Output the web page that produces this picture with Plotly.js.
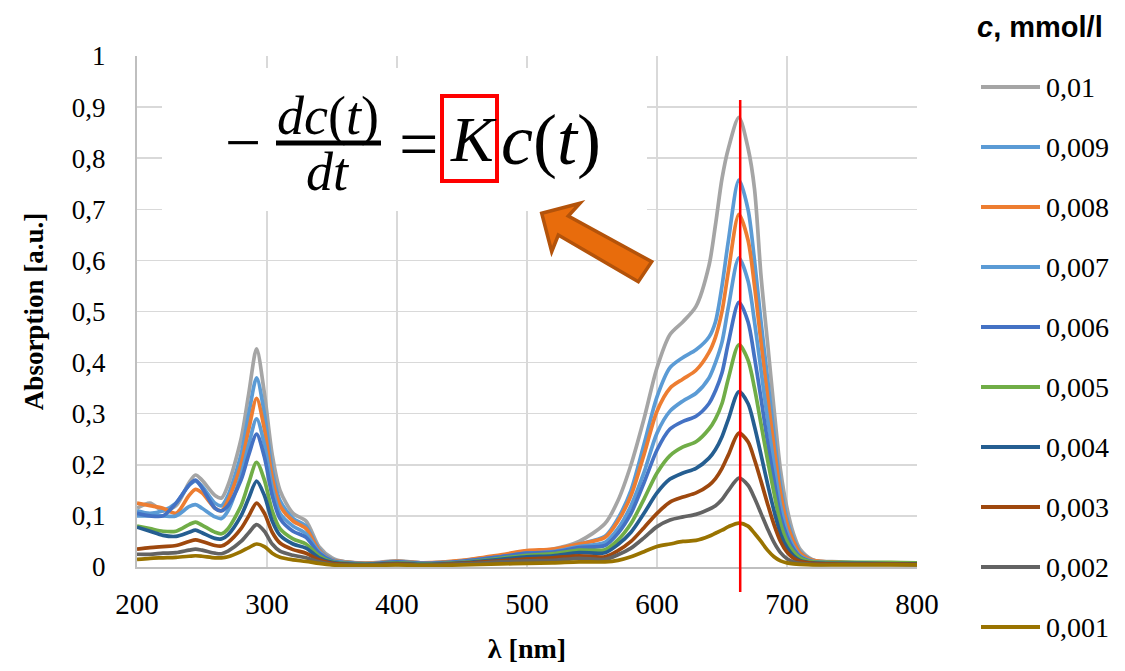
<!DOCTYPE html>
<html>
<head>
<meta charset="utf-8">
<script src="https://cdn.plot.ly/plotly-3.0.1.min.js"></script>
<style>html,body{margin:0;padding:0;background:#fff;}#chart{width:1125px;height:671px;}</style>
</head>
<body>
<div id="chart"></div>
<script>
// ---- data ----
const wavelengths = [200,210,220,230,240,245,250,260,265,270,280,286,292,298,304,310,320,330,340,350,360,380,400,420,450,480,500,520,540,560,570,580,590,600,610,620,630,640,645,650,655,663,670,675,680,685,690,695,700,705,710,720,740,760,780,800];

const seriesLabels = ["0,01","0,009","0,008","0,007","0,006","0,005","0,004","0,003","0,002","0,001"];
const seriesColors = ["#A5A5A5","#5B9BD5","#ED7D31","#5B9BD5","#4472C4","#70AD47","#255E91","#9E480E","#636363","#997300"];

const abs_0_010 = [.115,.125,.11,.12,.165,.18,.17,.14,.135,.16,.25,.34,.427,.34,.22,.15,.105,.09,.04,.018,.01,
  .008,.012,.008,.012,.022,.03,.035,.05,
  .085,.13,.2,.29,.39,.455,.48,.51,.59,.67,.76,.82,.88,.82,.74,.57,.44,.31,.19,.115,.065,.035,.014,.01,.008,.008,.007];
const abs_0_009 = [.11,.105,.11,.125,.16,.168,.158,.125,.12,.14,.22,.3,.37,.3,.19,.13,.095,.08,.035,.015,.01,
  .007,.011,.008,.012,.022,.03,.033,.045,
  .06,.095,.15,.24,.333,.39,.41,.425,.45,.48,.55,.64,.757,.70,.6,.48,.37,.26,.16,.095,.055,.03,.013,.009,.008,.007,.006];
const abs_0_008 = [.125,.12,.115,.105,.14,.152,.145,.115,.11,.13,.2,.27,.33,.27,.175,.12,.09,.075,.033,.014,.01,
  .007,.011,.008,.013,.024,.032,.035,.045,
  .058,.09,.14,.22,.305,.35,.368,.385,.42,.45,.5,.58,.69,.64,.55,.44,.335,.235,.145,.085,.05,.028,.013,.009,.008,.008,.007];
const abs_0_007 = [.1,.1,.1,.1,.118,.122,.115,.098,.095,.11,.18,.24,.29,.24,.155,.105,.08,.065,.03,.013,.009,
  .006,.01,.007,.011,.02,.027,.03,.04,
  .048,.075,.12,.185,.262,.305,.325,.34,.37,.4,.44,.51,.605,.56,.48,.385,.29,.2,.12,.07,.04,.022,.011,.008,.007,.007,.006];
const abs_0_006 = [.105,.1,.1,.125,.16,.17,.155,.115,.11,.12,.17,.22,.26,.215,.14,.095,.07,.058,.027,.012,.008,
  .006,.01,.007,.011,.02,.027,.029,.038,
  .042,.066,.105,.165,.229,.27,.285,.295,.32,.345,.38,.44,.518,.48,.41,.33,.245,.17,.1,.06,.035,.02,.01,.008,.007,.007,.006];
const abs_0_005 = [.08,.075,.07,.07,.083,.088,.082,.068,.065,.075,.12,.165,.205,.17,.11,.075,.055,.045,.022,.01,.007,
  .005,.008,.006,.009,.017,.023,.026,.033,
  .034,.053,.085,.133,.184,.218,.235,.245,.27,.29,.32,.37,.435,.405,.35,.28,.21,.145,.085,.05,.03,.018,.01,.009,.009,.009,.008];
const abs_0_004 = [.078,.07,.062,.06,.068,.072,.067,.056,.055,.063,.1,.135,.168,.14,.09,.062,.045,.037,.018,.009,.006,
  .005,.007,.005,.008,.015,.02,.022,.028,
  .028,.044,.068,.105,.145,.172,.184,.193,.213,.23,.255,.29,.343,.32,.275,.22,.163,.11,.065,.038,.022,.013,.008,.007,.007,.006,.006];
const abs_0_003 = [.035,.038,.04,.042,.05,.053,.05,.042,.041,.048,.075,.1,.125,.105,.068,.047,.034,.027,.014,.007,.005,
  .004,.006,.004,.007,.012,.016,.018,.022,
  .02,.032,.05,.077,.105,.127,.137,.145,.16,.173,.193,.22,.262,.245,.21,.168,.124,.083,.05,.029,.017,.011,.007,.006,.006,.006,.005];
const abs_0_002 = [.025,.025,.027,.028,.033,.035,.033,.027,.026,.031,.05,.067,.083,.07,.045,.031,.023,.018,.01,.005,.004,
  .004,.005,.004,.006,.01,.012,.013,.017,
  .015,.024,.037,.057,.079,.092,.098,.103,.113,.12,.132,.15,.174,.16,.135,.105,.075,.048,.028,.016,.01,.007,.005,.005,.005,.005,.004];
const abs_0_001 = [.015,.017,.018,.019,.021,.022,.021,.018,.018,.02,.03,.038,.045,.04,.027,.019,.014,.011,.007,.004,.003,
  .003,.004,.003,.004,.006,.007,.008,.01,
  .01,.013,.02,.03,.04,.045,.05,.052,.06,.066,.072,.079,.086,.08,.066,.05,.033,.02,.012,.008,.006,.005,.004,.004,.004,.004,.004];

const seriesValues = [abs_0_010,abs_0_009,abs_0_008,abs_0_007,abs_0_006,abs_0_005,abs_0_004,abs_0_003,abs_0_002,abs_0_001];
const markerWavelength = 664;
const xTickVals = [200,300,400,500,600,700,800];

// ---- geometry helpers (pixel -> paper) for decorations ----
const M = {l:137, r:208, t:56, b:104};
const PW = 1125 - M.l - M.r, PH = 671 - M.t - M.b;
const px = x => (x - M.l) / PW;
const py = y => (M.t + PH - y) / PH;

const SERIF = '"Liberation Serif", "Times New Roman", Tinos, "DejaVu Serif", serif';
const SANS = '"Liberation Sans", Arial, Arimo, "DejaVu Sans", sans-serif';

const traces = seriesValues.map((vals, i) => ({
  type:'scatter', mode:'lines', x: wavelengths, y: vals, name: seriesLabels[i],
  line:{color: seriesColors[i], width:3.7, shape:'spline', smoothing:0.8},
  hoverinfo:'x+y+name'
}));

const shapes = [];
const annotations = [];

// equation box
shapes.push({type:'rect', xref:'paper', yref:'paper', x0:px(162), x1:px(647), y0:py(68), y1:py(211),
  fillcolor:'#FFFFFF', line:{width:0}, layer:'above'});
// fraction bar
shapes.push({type:'line', xref:'paper', yref:'paper', x0:px(276), x1:px(381), y0:py(143), y1:py(143),
  line:{color:'#000', width:5}, layer:'above'});
// red box around K
shapes.push({type:'rect', xref:'paper', yref:'paper', x0:px(442), x1:px(497), y0:py(96), y1:py(181),
  line:{color:'#FF0000', width:4}, fillcolor:'rgba(0,0,0,0)', layer:'above'});
// orange arrow
const arrowPts = [[541.7,213.3],[580,203.3],[568.3,216],[651.7,261.7],[638.3,281.7],[558.3,235],[551.7,251.7]];
shapes.push({type:'path', xref:'paper', yref:'paper',
  path: 'M ' + arrowPts.map(p => px(p[0]) + ',' + py(p[1])).join(' L ') + ' Z',
  fillcolor:'#E86C0C', line:{color:'#B4530A', width:3.5}, layer:'above'});
// red vertical marker
shapes.push({type:'line', xref:'x', yref:'paper', x0:markerWavelength, x1:markerWavelength, y0:py(592), y1:py(100),
  line:{color:'#FF0000', width:2.5}, layer:'above'});

// equation text
const eqFont = (s) => ({family:SERIF, size:s, color:'#000'});
annotations.push({xref:'paper', yref:'paper', x:px(243), y:py(142), text:'−', showarrow:false, font:eqFont(64), xanchor:'center', yanchor:'middle'});
annotations.push({xref:'paper', yref:'paper', x:px(328), y:py(116), text:'<i>dc</i>(<i>t</i>)', showarrow:false, font:eqFont(54), xanchor:'center', yanchor:'middle'});
annotations.push({xref:'paper', yref:'paper', x:px(328), y:py(172), text:'<i>dt</i>', showarrow:false, font:eqFont(54), xanchor:'center', yanchor:'middle'});
annotations.push({xref:'paper', yref:'paper', x:px(418), y:py(144), text:'=', showarrow:false, font:eqFont(70), xanchor:'center', yanchor:'middle'});
annotations.push({xref:'paper', yref:'paper', x:px(473), y:py(139), text:'<i>K</i>', showarrow:false, font:eqFont(64), xanchor:'center', yanchor:'middle'});
annotations.push({xref:'paper', yref:'paper', x:px(551), y:py(140), text:'<i>c</i>(<i>t</i>)', showarrow:false, font:eqFont(72), xanchor:'center', yanchor:'middle'});

// manual legend
annotations.push({xref:'paper', yref:'paper', x:px(1040), y:py(27), text:'<b><i>c</i>, mmol/l</b>', showarrow:false,
  font:{family:SANS, size:29, color:'#000'}, xanchor:'center', yanchor:'middle'});
seriesLabels.forEach((lab, i) => {
  const yy = 87 + i * 60;
  shapes.push({type:'line', xref:'paper', yref:'paper', x0:px(981), x1:px(1040), y0:py(yy), y1:py(yy),
    line:{color: seriesColors[i], width:4}, layer:'above'});
  annotations.push({xref:'paper', yref:'paper', x:px(1044), y:py(yy), text:lab, showarrow:false,
    font:{family:SERIF, size:28, color:'#000'}, xanchor:'left', yanchor:'middle'});
});

const layout = {
  width:1125, height:671,
  margin:{l:M.l, r:M.r, t:M.t, b:M.b, pad:0},
  paper_bgcolor:'#FFFFFF', plot_bgcolor:'#FFFFFF',
  separators:', ',
  showlegend:false,
  font:{family:SERIF, color:'#000'},
  xaxis:{range:[200,800], tickvals:xTickVals, showgrid:true, gridcolor:'#D9D9D9', gridwidth:1.5,
    showline:true, linecolor:'#BFBFBF', linewidth:2, ticks:'', zeroline:false,
    tickfont:{family:SERIF, size:29, color:'#000'}, ticklabelstandoff:10,
    title:{text:'<b>λ [nm]</b>', font:{family:SERIF, size:28, color:'#000'}, standoff:20}},
  yaxis:{range:[0,1], dtick:0.1, tick0:0, showgrid:true, gridcolor:'#D9D9D9', gridwidth:1.5,
    showline:true, linecolor:'#BFBFBF', linewidth:2, ticks:'', zeroline:false,
    tickfont:{family:SERIF, size:27, color:'#000'}, ticklabelstandoff:24,
    title:{text:'<b>Absorption [a.u.]</b>', font:{family:SERIF, size:27, color:'#000'}, standoff:20}},
  shapes: shapes,
  annotations: annotations
};

Plotly.newPlot('chart', traces, layout, {displayModeBar:false, staticPlot:true});
</script>
</body>
</html>
